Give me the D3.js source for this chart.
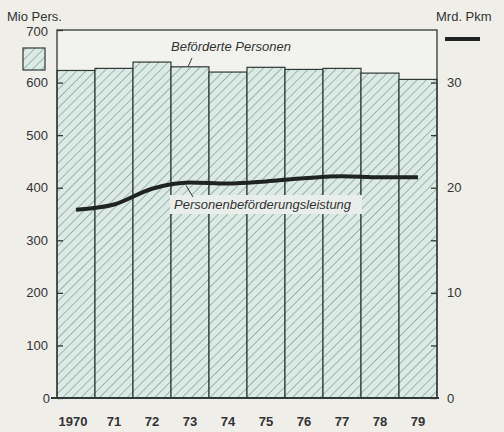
<!DOCTYPE html>
<html>
<head>
<meta charset="utf-8">
<script src="https://cdn.jsdelivr.net/npm/d3@7"></script>
<style>
  body { margin: 0; background: #efeee9; }
  svg { display: block; font-family: "Liberation Sans", Arial, sans-serif; }
</style>
</head>
<body>
<div class="canvas"></div>
<script>
// Data
const years = ["1970", "71", "72", "73", "74", "75", "76", "77", "78", "79"];
const persons = [623, 627, 639, 630, 620, 629, 625, 627, 618, 606];      // Mio Pers. (bars)
const pkm = [17.9, 18.4, 19.9, 20.5, 20.4, 20.6, 20.9, 21.1, 21.0, 21.0];  // Mrd. Pkm (line)
const leftTicks = [0, 100, 200, 300, 400, 500, 600, 700];
const rightTicks = [0, 10, 20, 30];
const rightMinor = [5, 15, 25];

const width = 504, height = 432;
const margin = { top: 30, right: 67, bottom: 34, left: 57 };

const svg = d3.select(".canvas")
    .append("svg")
    .attr("width", width)
    .attr("height", height);

// hatch pattern
const defs = svg.append("defs");
const pat = defs.append("pattern")
    .attr("id", "hatch")
    .attr("patternUnits", "userSpaceOnUse")
    .attr("width", 6.5)
    .attr("height", 6.5)
    .attr("patternTransform", "rotate(45)");
pat.append("rect")
    .attr("width", 6.5).attr("height", 6.5)
    .attr("fill", "#dbeae5");
pat.append("line")
    .attr("x1", 0).attr("y1", 0).attr("x2", 0).attr("y2", 6.5)
    .attr("stroke", "#7d9892")
    .attr("stroke-width", 1.3);

const x = d3.scaleBand()
    .domain(years)
    .range([margin.left, width - margin.right])
    .padding(0);

const yL = d3.scaleLinear()
    .domain([0, 700])
    .range([height - margin.bottom, margin.top]);

const yR = d3.scaleLinear()
    .domain([0, 35])
    .range([height - margin.bottom, margin.top]);

// plot frame background
svg.append("rect")
    .attr("x", margin.left)
    .attr("y", margin.top)
    .attr("width", width - margin.left - margin.right)
    .attr("height", height - margin.top - margin.bottom)
    .attr("fill", "#f2f2ee");

// Bars
svg.append("g")
    .selectAll("rect")
    .data(persons)
    .enter().append("rect")
    .attr("x", (d, i) => x(years[i]))
    .attr("y", d => yL(d))
    .attr("width", x.bandwidth())
    .attr("height", d => yL(0) - yL(d))
    .attr("fill", "url(#hatch)")
    .attr("stroke", "#2f3a37")
    .attr("stroke-width", 1.2);

// Frame
svg.append("rect")
    .attr("x", margin.left)
    .attr("y", margin.top)
    .attr("width", width - margin.left - margin.right)
    .attr("height", height - margin.top - margin.bottom)
    .attr("fill", "none")
    .attr("stroke", "#2f3a37")
    .attr("stroke-width", 1.3);

// baseline
svg.append("line")
    .attr("x1", margin.left - 6)
    .attr("x2", width - margin.right + 2)
    .attr("y1", yL(0)).attr("y2", yL(0))
    .attr("stroke", "#2f3a37")
    .attr("stroke-width", 2);

// Left axis
const leftAxis = svg.append("g")
    .attr("transform", `translate(${margin.left},0)`)
    .call(d3.axisRight(yL).tickValues(leftTicks).tickSize(6).tickFormat(""));
leftAxis.select(".domain").remove();
leftAxis.selectAll("line").attr("stroke", "#2f3a37").attr("stroke-width", 1.3);

svg.append("g")
    .selectAll("text")
    .data(leftTicks)
    .enter().append("text")
    .attr("x", d => d === 0 ? 50 : 48)
    .attr("y", d => yL(d) + (d === 700 ? 6 : 4.5))
    .attr("text-anchor", "end")
    .attr("font-size", 13)
    .attr("fill", "#333")
    .text(d => d);

// Right axis
const rightAxis = svg.append("g")
    .attr("transform", `translate(${width - margin.right},0)`)
    .call(d3.axisLeft(yR).tickValues(rightTicks.concat(rightMinor)).tickSize(6).tickFormat(""));
rightAxis.select(".domain").remove();
rightAxis.selectAll("line").attr("stroke", "#2f3a37").attr("stroke-width", 1.3);

svg.append("g")
    .selectAll("text")
    .data(rightTicks)
    .enter().append("text")
    .attr("x", width - margin.right + 10)
    .attr("y", d => yR(d) + 4.5)
    .attr("font-size", 13)
    .attr("fill", "#333")
    .text(d => d);

// X labels
svg.append("g")
    .selectAll("text")
    .data(years)
    .enter().append("text")
    .attr("x", d => x(d) + x.bandwidth() / 2 - (d === "1970" ? 3 : 0))
    .attr("y", 426)
    .attr("text-anchor", "middle")
    .attr("font-size", 13)
    .attr("font-weight", "bold")
    .attr("fill", "#333")
    .text(d => d);

// Line
const line = d3.line()
    .x((d, i) => x(years[i]) + x.bandwidth() / 2)
    .y(d => yR(d))
    .curve(d3.curveMonotoneX);

svg.append("path")
    .datum(pkm)
    .attr("d", line)
    .attr("fill", "none")
    .attr("stroke", "#1f2422")
    .attr("stroke-width", 4)
    .attr("stroke-linecap", "butt");

// Annotation: Beförderte Personen
svg.append("text")
    .attr("x", 171)
    .attr("y", 51)
    .attr("font-size", 13)
    .attr("font-style", "italic")
    .attr("fill", "#333")
    .text("Beförderte Personen");
svg.append("line")
    .attr("x1", 192).attr("y1", 58)
    .attr("x2", 188).attr("y2", yL(persons[3]))
    .attr("stroke", "#2f3a37").attr("stroke-width", 1);

// Annotation: Personenbeförderungsleistung
svg.append("rect")
    .attr("x", 170)
    .attr("y", 195)
    .attr("width", 192)
    .attr("height", 19)
    .attr("fill", "#e9eeeb");
svg.append("text")
    .attr("x", 174)
    .attr("y", 209)
    .attr("font-size", 13)
    .attr("font-style", "italic")
    .attr("fill", "#333")
    .text("Personenbeförderungsleistung");
svg.append("line")
    .attr("x1", 193).attr("y1", 197)
    .attr("x2", 186).attr("y2", yR(pkm[3]) + 3)
    .attr("stroke", "#2f3a37").attr("stroke-width", 1);

// Axis titles
svg.append("text")
    .attr("x", 7)
    .attr("y", 21)
    .attr("font-size", 13)
    .attr("fill", "#333")
    .text("Mio Pers.");
svg.append("text")
    .attr("x", 436)
    .attr("y", 21)
    .attr("font-size", 13)
    .attr("fill", "#333")
    .text("Mrd. Pkm");

// Legend symbols
svg.append("rect")
    .attr("x", 23)
    .attr("y", 48)
    .attr("width", 22)
    .attr("height", 22)
    .attr("fill", "url(#hatch)")
    .attr("stroke", "#2f3a37")
    .attr("stroke-width", 1.2);
svg.append("line")
    .attr("x1", 445).attr("x2", 480)
    .attr("y1", 39).attr("y2", 39)
    .attr("stroke", "#1f2422")
    .attr("stroke-width", 4);
</script>
</body>
</html>
